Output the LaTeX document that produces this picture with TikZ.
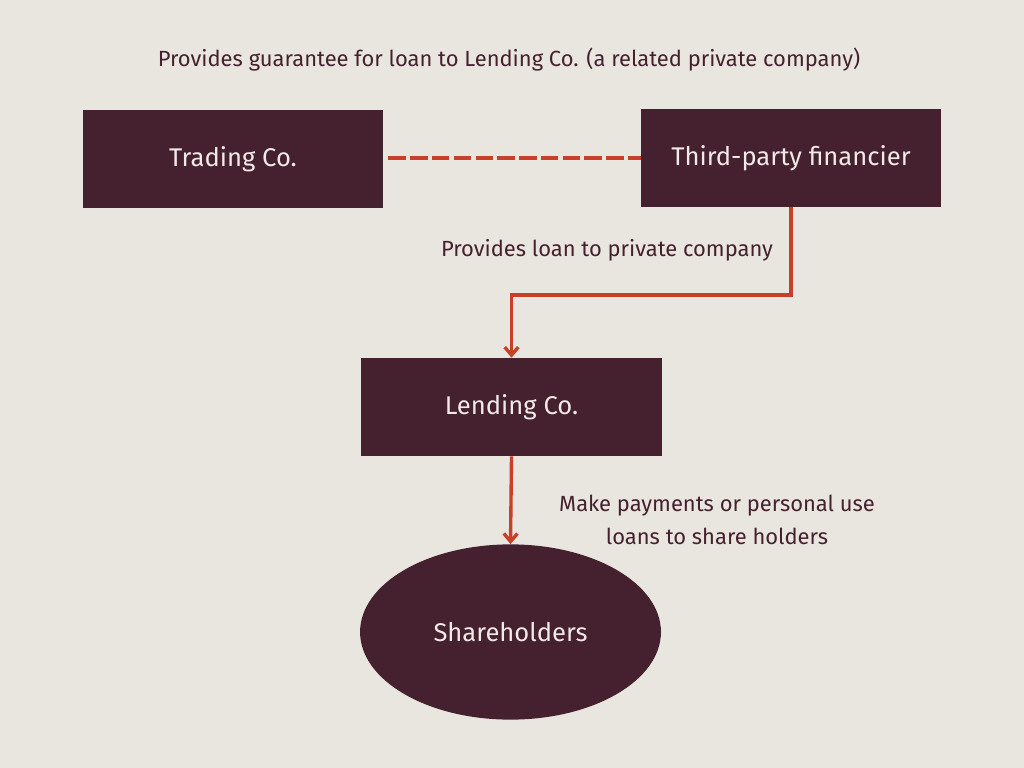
\documentclass[tikz,border=0pt]{standalone}
\usepackage{fontspec}
\setmainfont{Fira Sans}
\usepackage{tikz}
\usetikzlibrary{arrows.meta, shapes.geometric}
\definecolor{bgcream}{HTML}{E9E6DF}
\definecolor{boxwine}{HTML}{45202E}
\definecolor{linered}{HTML}{C8402A}
\definecolor{boxtext}{HTML}{F3E9E9}

\begin{document}
\begin{tikzpicture}[
    x=0.025cm, y=-0.025cm,
    entity/.style={rectangle, fill=boxwine, text=boxtext, minimum width=7.5cm, minimum height=2.45cm, inner sep=0pt, font=\fontsize{18.2}{22}\selectfont},
    holder/.style={ellipse, fill=boxwine, text=boxtext, minimum width=7.52cm, minimum height=4.38cm, inner sep=0pt, font=\fontsize{18.2}{22}\selectfont},
    note/.style={text=boxwine, align=center, font=\fontsize{15.6}{23.5}\selectfont},
    flow/.style={-{Straight Barb[length=2mm, width=3.4mm, line width=2.4pt]}, line width=2.4pt, linered}
]
    \fill[bgcream] (0,0) rectangle (1024,768);
    \useasboundingbox (0,0) rectangle (1024,768);

    \node[entity] (trading) at (233,159) {Trading Co.};
    \node[entity] (financier) at (791,158) {Third-party financier};
    \node[entity] (lending) at (511.5,407) {Lending Co.};
    \node[holder] (holders) at (510.5,632) {Shareholders};

    \draw[linered, line width=2.4pt, dash pattern=on 12.5pt off 3pt] (trading.east) ++(5,-1) -- (financier.west);

    \coordinate (bend) at (791,295);
    \draw[flow] (financier.south) -- (bend) -| (lending.north);
    \draw[flow] (lending.south) -- (holders.north);

    \node[note] (guarantee) at (509,60) {Provides guarantee for loan to Lending Co. (a related private company)};
    \node[note] (loan) at (607,250) {Provides loan to private company};
    \node[note] (payments) at (717,520) {Make payments or personal use\\loans to share holders};
\end{tikzpicture}
\end{document}
